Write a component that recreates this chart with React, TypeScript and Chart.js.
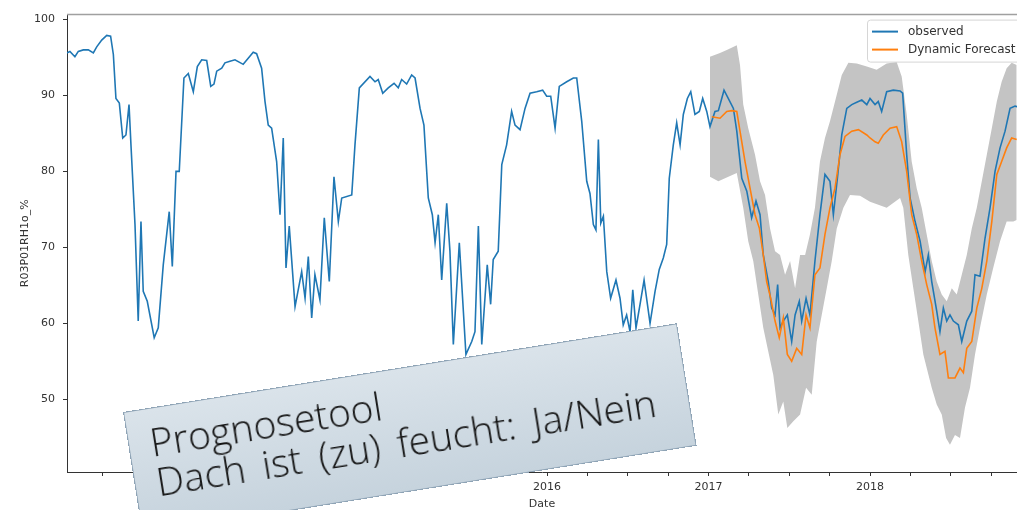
import React, { useEffect, useRef } from 'react';
import { Chart, registerables } from 'chart.js';

Chart.register(...registerables);

// ---------- data ----------
const obsX = [
  2013.026, 2013.046, 2013.077, 2013.098, 2013.129, 2013.160, 2013.191, 2013.212, 2013.243, 2013.274,
  2013.298, 2013.315, 2013.331, 2013.352, 2013.373, 2013.393, 2013.412, 2013.424, 2013.449, 2013.469,
  2013.486, 2013.500, 2013.525, 2013.568, 2013.593, 2013.624, 2013.661, 2013.680, 2013.703, 2013.723,
  2013.752, 2013.779, 2013.810, 2013.835, 2013.862, 2013.893, 2013.918, 2013.938, 2013.955, 2013.986,
  2014.006, 2014.037, 2014.068, 2014.119, 2014.150, 2014.181, 2014.202, 2014.233, 2014.254, 2014.274,
  2014.295, 2014.326, 2014.347, 2014.367, 2014.384, 2014.404, 2014.440, 2014.481, 2014.502, 2014.522,
  2014.543, 2014.563, 2014.594, 2014.621, 2014.652, 2014.681, 2014.708, 2014.729, 2014.791, 2014.811,
  2014.838, 2014.904, 2014.935, 2014.955, 2014.983,
  2015.017, 2015.053, 2015.079, 2015.100, 2015.131, 2015.162, 2015.183, 2015.214, 2015.238, 2015.265,
  2015.290, 2015.307, 2015.327, 2015.348, 2015.379, 2015.399, 2015.420, 2015.457, 2015.498, 2015.534,
  2015.554, 2015.575, 2015.596, 2015.630, 2015.651, 2015.667, 2015.698, 2015.720, 2015.750, 2015.781,
  2015.802, 2015.833, 2015.864, 2015.895, 2015.936, 2015.973, 2015.998,
  2016.023, 2016.050, 2016.076, 2016.122, 2016.163, 2016.184, 2016.215, 2016.246, 2016.266, 2016.287,
  2016.303, 2016.318, 2016.333, 2016.349, 2016.370, 2016.394, 2016.427, 2016.452, 2016.472, 2016.493,
  2016.514, 2016.531, 2016.551, 2016.576, 2016.601, 2016.638, 2016.669, 2016.695, 2016.720, 2016.741,
  2016.757, 2016.782, 2016.803, 2016.824, 2016.844, 2016.869, 2016.890, 2016.916, 2016.943, 2016.964,
  2016.989,
  2017.009, 2017.040, 2017.061, 2017.096, 2017.123, 2017.154, 2017.175, 2017.206, 2017.237, 2017.267,
  2017.294, 2017.319, 2017.339, 2017.370, 2017.391, 2017.412, 2017.428, 2017.443, 2017.463, 2017.488,
  2017.515, 2017.536, 2017.562, 2017.577, 2017.604, 2017.628, 2017.659, 2017.690, 2017.721, 2017.752,
  2017.773, 2017.798, 2017.825, 2017.856, 2017.887, 2017.918, 2017.949, 2017.980,
  2018.000, 2018.031, 2018.051, 2018.072, 2018.103, 2018.144, 2018.186, 2018.202, 2018.227, 2018.248,
  2018.279, 2018.310, 2018.341, 2018.361, 2018.382, 2018.413, 2018.433, 2018.454, 2018.475, 2018.495,
  2018.516, 2018.547, 2018.568, 2018.599, 2018.630, 2018.650, 2018.681, 2018.712, 2018.743, 2018.774,
  2018.805, 2018.836, 2018.867, 2018.898, 2018.915,
];
const obsY = [
  95.6, 95.8, 95.1, 95.8, 96.0, 96.0, 95.6, 96.4, 97.3, 97.9,
  97.8, 95.4, 89.6, 89.0, 84.4, 84.8, 88.8, 83.5, 73.0, 60.3,
  73.4, 64.2, 62.9, 58.1, 59.4, 67.7, 74.7, 67.5, 80.0, 80.0,
  92.3, 92.9, 90.5, 93.8, 94.7, 94.6, 91.2, 91.5, 93.2, 93.6,
  94.3, 94.5, 94.7, 94.1, 94.9, 95.7, 95.5, 93.6, 89.2, 86.1,
  85.7, 81.3, 74.3, 84.4, 67.3, 72.8, 62.2, 66.8, 63.3, 68.8,
  60.7, 66.4, 63.1, 73.9, 65.5, 79.3, 73.4, 76.5, 76.9, 83.5,
  91.0, 92.5, 91.8, 92.1, 90.3,
  91.0, 91.6, 91.0, 92.1, 91.5, 92.7, 92.3, 88.3, 86.1, 76.5,
  74.3, 70.6, 74.3, 65.7, 75.8, 69.5, 57.2, 70.6, 55.9, 57.6,
  58.9, 72.8, 57.2, 67.7, 62.5, 68.4, 69.5, 80.9, 83.5, 87.9,
  86.1, 85.5, 88.3, 90.3, 90.5, 90.7, 89.9,
  89.9, 85.7, 91.2, 91.8, 92.3, 92.3, 86.6, 78.7, 77.1, 73.0,
  72.3, 84.2, 73.2, 74.1, 66.8, 63.3, 65.7, 63.3, 59.8, 61.1,
  58.9, 64.4, 59.4, 62.5, 65.7, 60.0, 64.2, 67.1, 68.6, 70.4,
  79.1, 83.5, 86.4, 83.5, 87.5, 89.6, 90.5, 87.5, 87.9, 89.6,
  87.9,
  85.9, 87.9, 88.0, 90.7, 89.6, 88.3, 85.3, 79.1, 77.4, 73.9,
  76.1, 74.3, 69.0, 65.5, 62.0, 61.1, 65.1, 59.4, 60.3, 61.1,
  57.6, 61.1, 62.9, 60.3, 63.3, 61.1, 68.2, 74.3, 79.6, 78.7,
  74.3, 79.1, 84.8, 88.3, 88.8, 89.1, 89.4, 88.8,
  89.6, 88.8, 89.2, 87.9, 90.5, 90.7, 90.6, 90.3, 82.2, 76.5,
  73.4, 70.8, 66.8, 69.0, 65.5, 61.6, 58.9, 62.0, 60.3, 61.1,
  60.3, 59.8, 57.6, 60.3, 61.6, 66.4, 66.2, 71.2, 75.2, 80.0,
  83.1, 85.3, 88.3, 88.6, 88.5,
];

const fcX = [
  2017.020, 2017.071, 2017.113, 2017.144, 2017.175, 2017.195, 2017.226, 2017.257, 2017.288, 2017.315,
  2017.339, 2017.360, 2017.385, 2017.412, 2017.438, 2017.463, 2017.488, 2017.515, 2017.546, 2017.577,
  2017.604, 2017.628, 2017.659, 2017.690, 2017.721, 2017.752, 2017.783, 2017.814, 2017.845, 2017.887,
  2017.928, 2017.980,
  2018.000, 2018.031, 2018.051, 2018.082, 2018.124, 2018.165, 2018.196, 2018.227, 2018.258, 2018.289,
  2018.320, 2018.351, 2018.382, 2018.402, 2018.433, 2018.464, 2018.485, 2018.526, 2018.557, 2018.578,
  2018.599, 2018.630, 2018.661, 2018.692, 2018.723, 2018.754, 2018.785, 2018.815, 2018.846, 2018.877,
  2018.908,
];
const fcY = [
  87.2, 87.0, 87.9, 88.0, 87.9, 85.3, 81.3, 77.8, 74.3, 72.5,
  69.0, 65.5, 63.3, 60.3, 58.1, 60.7, 55.9, 55.0, 56.7, 55.9,
  61.1, 59.4, 66.4, 67.3, 71.7, 75.2, 77.8, 82.2, 84.6, 85.3,
  85.5, 84.8,
  84.4, 83.9, 83.7, 84.8, 85.7, 85.9, 83.9, 80.0, 74.3, 71.7,
  68.2, 65.1, 62.5, 59.4, 55.9, 56.3, 52.8, 52.8, 54.1, 53.5,
  56.7, 57.6, 62.0, 64.6, 68.2, 73.4, 79.6, 81.3, 83.1, 84.4,
  84.2,
];

const ciUpX = [
  2017.009, 2017.071, 2017.113, 2017.133, 2017.175, 2017.195, 2017.215, 2017.246, 2017.288, 2017.319,
  2017.350, 2017.381, 2017.412, 2017.443, 2017.474, 2017.505, 2017.536, 2017.567, 2017.598, 2017.628,
  2017.659, 2017.690, 2017.721, 2017.752, 2017.794, 2017.825, 2017.866, 2017.918, 2017.980,
  2018.041, 2018.103, 2018.165, 2018.196, 2018.227, 2018.258, 2018.289, 2018.320, 2018.351, 2018.382,
  2018.413, 2018.444, 2018.475, 2018.506, 2018.537, 2018.568, 2018.599, 2018.630, 2018.661, 2018.692,
  2018.723, 2018.754, 2018.785, 2018.815, 2018.846, 2018.877, 2018.908,
];
const ciUpY = [
  95.1, 95.6, 96.0, 96.2, 96.6, 94.0, 88.8, 85.7, 82.2, 78.7,
  76.9, 72.5, 69.5, 69.0, 66.4, 68.2, 64.6, 69.0, 69.0, 71.7,
  75.2, 81.3, 84.4, 86.6, 90.1, 92.7, 94.3, 94.2, 93.8,
  93.4, 94.2, 94.4, 92.5, 87.5, 81.3, 77.8, 75.2, 71.7, 68.2,
  65.5, 63.8, 62.9, 64.6, 63.8, 66.4, 69.0, 72.5, 75.2, 78.7,
  82.2, 85.7, 89.2, 91.8, 93.6, 94.3, 94.0,
];

const ciLoX = [
  2017.009, 2017.061, 2017.123, 2017.175, 2017.215, 2017.246, 2017.277, 2017.308, 2017.339, 2017.370,
  2017.401, 2017.432, 2017.463, 2017.488, 2017.525, 2017.567, 2017.604, 2017.639, 2017.670, 2017.701,
  2017.732, 2017.763, 2017.794, 2017.835, 2017.876, 2017.938,
  2018.000, 2018.103, 2018.186, 2018.206, 2018.237, 2018.268, 2018.299, 2018.330, 2018.351, 2018.382,
  2018.413, 2018.444, 2018.471, 2018.495, 2018.526, 2018.557, 2018.588, 2018.619, 2018.650, 2018.681,
  2018.723, 2018.763, 2018.805, 2018.846, 2018.887, 2018.908,
];
const ciLoY = [
  79.3, 78.7, 79.3, 79.8, 75.2, 70.8, 68.2, 63.8, 59.4, 56.3,
  53.2, 48.0, 49.7, 46.2, 47.1, 48.0, 51.5, 50.6, 57.6, 61.1,
  64.6, 68.2, 72.5, 75.2, 76.9, 76.8,
  76.0, 75.2, 76.5, 75.2, 69.0, 64.6, 60.3, 55.9, 54.1, 51.5,
  49.3, 48.0, 44.9, 44.0, 45.3, 44.9, 48.9, 51.5, 55.9, 59.4,
  63.8, 67.3, 70.8, 73.4, 73.4, 73.6,
];

const seriesLabels = ['observed', 'Dynamic Forecast'];
const tickYears = [2013, 2014, 2015, 2016, 2017, 2018];
const labeledYears = [2014, 2015, 2016, 2017, 2018];
const yTickValues = [50, 60, 70, 80, 90, 100];
const xRange = [2013.028, 2018.91];
const yRange = [40.42, 100.65];
const yAxisTitle = 'R03P01RH1o_%';
const xAxisTitle = 'Date';
const noteLines = ['Prognosetool', 'Dach ist (zu) feucht: Ja/Nein'];

// ---------- helpers ----------
const toPoints = (xs: number[], ys: number[]) => xs.map((x, i) => ({ x, y: ys[i] }));
const quarterTicks = tickYears
  .flatMap((y) => [y, y + 0.25, y + 0.5, y + 0.75])
  .filter((v) => v >= xRange[0] && v <= xRange[1]);

const BLUE = '#1f77b4';
const ORANGE = '#ff7f0e';
const AXIS = '#333333';
const FONT = "'DejaVu Sans', sans-serif";

const framePlugin = {
  id: 'frameAndLegend',
  afterDraw(chart: any) {
    const { ctx, chartArea } = chart;
    ctx.save();
    // top spine
    ctx.strokeStyle = '#a0a0a0';
    ctx.lineWidth = 1.5;
    ctx.beginPath();
    ctx.moveTo(chartArea.left, chartArea.top);
    ctx.lineTo(chartArea.right, chartArea.top);
    ctx.stroke();

    // legend (matplotlib style, upper right)
    const lx = chartArea.right - 150;
    const ly = chartArea.top + 5;
    const lw = 170;
    const lh = 42;
    ctx.fillStyle = 'rgba(255,255,255,0.85)';
    ctx.strokeStyle = '#d6d6d6';
    ctx.lineWidth = 1;
    ctx.beginPath();
    if (ctx.roundRect) ctx.roundRect(lx + 0.5, ly + 0.5, lw, lh, 3);
    else ctx.rect(lx + 0.5, ly + 0.5, lw, lh);
    ctx.fill();
    ctx.stroke();
    const ds = chart.data.datasets;
    const rows = [0, 1];
    ctx.font = `12px ${FONT}`;
    ctx.textBaseline = 'middle';
    ctx.textAlign = 'left';
    rows.forEach((di, r) => {
      const yy = ly + 12 + r * 18;
      ctx.strokeStyle = ds[di].borderColor;
      ctx.lineWidth = 2;
      ctx.beginPath();
      ctx.moveTo(lx + 5, yy);
      ctx.lineTo(lx + 31, yy);
      ctx.stroke();
      ctx.fillStyle = '#333';
      ctx.fillText(ds[di].label, lx + 41, yy + 0.5);
    });
    ctx.restore();
  },
};

export default function App() {
  const canvasRef = useRef<HTMLCanvasElement | null>(null);

  useEffect(() => {
    if (!canvasRef.current) return;
    const chart = new Chart(canvasRef.current, {
      type: 'line',
      data: {
        datasets: [
          {
            label: seriesLabels[0],
            data: toPoints(obsX, obsY),
            borderColor: BLUE,
            backgroundColor: BLUE,
            borderWidth: 1.6,
            pointRadius: 0,
            tension: 0,
            fill: false,
            order: 1,
          },
          {
            label: seriesLabels[1],
            data: toPoints(fcX, fcY),
            borderColor: ORANGE,
            backgroundColor: ORANGE,
            borderWidth: 1.6,
            pointRadius: 0,
            tension: 0,
            fill: false,
            order: 0,
          },
          {
            label: 'ci upper',
            data: toPoints(ciUpX, ciUpY),
            borderColor: 'rgba(0,0,0,0)',
            borderWidth: 0,
            pointRadius: 0,
            tension: 0,
            fill: false,
            order: 2,
          },
          {
            label: 'ci lower',
            data: toPoints(ciLoX, ciLoY),
            borderColor: 'rgba(0,0,0,0)',
            backgroundColor: '#c4c4c4',
            borderWidth: 0,
            pointRadius: 0,
            tension: 0,
            fill: '-1',
            order: 3,
          },
        ],
      } as any,
      options: {
        animation: false,
        responsive: false,
        layout: { padding: { top: 13, right: 0, bottom: 0, left: 0 } },
        plugins: {
          legend: { display: false },
          tooltip: { enabled: false },
        },
        scales: {
          x: {
            type: 'linear',
            min: xRange[0],
            max: xRange[1],
            afterBuildTicks: (s: any) => {
              s.ticks = quarterTicks.map((v) => ({ value: v }));
            },
            afterFit: (s: any) => {
              s.height = 38;
            },
            ticks: {
              autoSkip: false,
              maxRotation: 0,
              padding: 5,
              color: AXIS,
              font: { family: FONT, size: 11 },
              callback: (v: any) => {
                const n = Number(v);
                const r = Math.round(n);
                return Math.abs(n - r) < 1e-6 && labeledYears.includes(r) ? String(r) : '';
              },
            },
            grid: { drawOnChartArea: false, drawTicks: true, tickLength: 4, tickColor: AXIS },
            border: { display: true, color: AXIS, width: 1 },
            title: {
              display: true,
              text: xAxisTitle,
              color: AXIS,
              font: { family: FONT, size: 11 },
              padding: { top: 0, bottom: -1 },
            },
          },
          y: {
            type: 'linear',
            min: yRange[0],
            max: yRange[1],
            afterBuildTicks: (s: any) => {
              s.ticks = yTickValues.map((v) => ({ value: v }));
            },
            afterFit: (s: any) => {
              s.width = 67;
            },
            ticks: {
              padding: 8,
              color: AXIS,
              font: { family: FONT, size: 11 },
            },
            grid: { drawOnChartArea: false, drawTicks: true, tickLength: 4, tickColor: AXIS },
            border: { display: true, color: AXIS, width: 1 },
            title: {
              display: true,
              text: yAxisTitle,
              color: AXIS,
              font: { family: FONT, size: 11 },
              padding: { top: 19, bottom: 0 },
            },
          },
        },
      } as any,
      plugins: [framePlugin],
    });
    return () => chart.destroy();
  }, []);

  return (
    <div
      style={{
        position: 'fixed',
        left: 0,
        top: 0,
        width: 1017,
        height: 510,
        overflow: 'hidden',
        background: '#ffffff',
      }}
    >
      <canvas ref={canvasRef} width={1017} height={510} style={{ display: 'block' }} />
      <div
        style={{
          position: 'absolute',
          left: 123,
          top: 412,
          width: 561,
          height: 124,
          boxSizing: 'border-box',
          transformOrigin: '0 0',
          transform: 'rotate(-9.1deg)',
          background: 'linear-gradient(180deg, #dae3ea 0%, #c6d3dd 100%)',
          border: '1px solid #8ea3b5',
          fontFamily: "'Open Sans', sans-serif",
          fontWeight: 300,
          fontSize: 39,
          wordSpacing: 7,
          lineHeight: '40px',
          color: '#141414',
          padding: '13px 0 0 21px',
          whiteSpace: 'pre',
        }}
      >
        {noteLines.map((l) => (
          <div key={l}>{l}</div>
        ))}
      </div>
    </div>
  );
}
